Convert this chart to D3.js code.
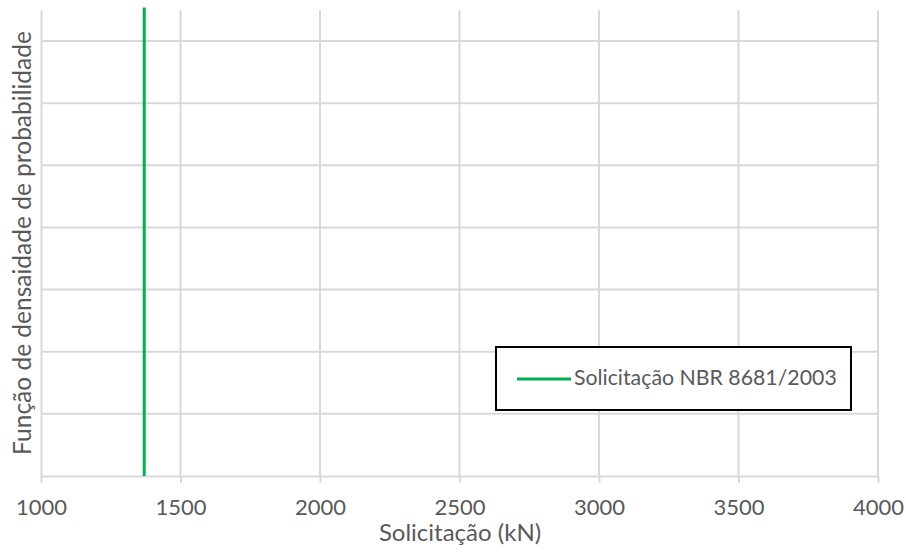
<!DOCTYPE html>
<html>
<head>
<meta charset="utf-8">
<script src="https://cdn.jsdelivr.net/npm/d3@7"></script>
<style>
  body { margin: 0; background: #fff; }
  text { font-family: Lato, "Open Sans", sans-serif; fill: #595959; }
</style>
</head>
<body>
<svg></svg>
<script>
let xTicks = [1000, 1500, 2000, 2500, 3000, 3500, 4000];
let yTicks = [0, 0.0005, 0.001, 0.0015, 0.002, 0.0025, 0.003, 0.0035];
let yMax = 0.00375;

// vertical line for the NBR 8681/2003 load
let nbrX = [1370, 1370];
let nbrY = [0, 0.00377];
let seriesName = 'Solicitação NBR 8681/2003';

let width = 906;
let height = 554;
let plotLeft = 41;
let plotRight = 878;
let plotTop = 10;
let plotBottom = 476;

let svg = d3.select('svg')
  .attr('width', width)
  .attr('height', height)

let xScale = d3.scaleLinear()
  .domain([1000, 4000])
  .range([plotLeft, plotRight])

let yScale = d3.scaleLinear()
  .domain([0, yMax])
  .range([plotBottom, plotTop])

// gridlines
svg.append('g')
  .selectAll('line')
  .data(xTicks.slice(1))
  .enter()
  .append('line')
  .attr('x1', d => xScale(d))
  .attr('x2', d => xScale(d))
  .attr('y1', plotTop)
  .attr('y2', plotBottom)
  .attr('stroke', '#d9d9d9')
  .attr('stroke-width', 2)

svg.append('g')
  .selectAll('line')
  .data(yTicks.slice(1))
  .enter()
  .append('line')
  .attr('x1', plotLeft)
  .attr('x2', plotRight)
  .attr('y1', d => yScale(d))
  .attr('y2', d => yScale(d))
  .attr('stroke', '#d9d9d9')
  .attr('stroke-width', 2)

// x axis
let xAxis = d3.axisBottom(xScale)
  .tickValues(xTicks)
  .tickFormat(d3.format('d'))
  .tickSizeInner(7)
  .tickSizeOuter(0)
  .tickPadding(16)

let gx = svg.append('g')
  .attr('transform', `translate(0, ${plotBottom})`)
  .call(xAxis)
gx.select('.domain').attr('stroke', '#d9d9d9').attr('stroke-width', 2)
gx.selectAll('.tick line').attr('stroke', '#d9d9d9').attr('stroke-width', 2)
gx.selectAll('.tick text')
  .attr('font-family', 'Lato, sans-serif')
  .attr('font-size', 22)
  .attr('fill', '#595959')

// y axis, no labels
let yAxis = d3.axisLeft(yScale)
  .tickValues(yTicks)
  .tickFormat('')
  .tickSize(0)

let gy = svg.append('g')
  .attr('transform', `translate(${plotLeft}, 0)`)
  .call(yAxis)
gy.select('.domain').attr('stroke', '#d9d9d9').attr('stroke-width', 2)

// series
let line = d3.line()
  .x(d => xScale(d[0]))
  .y(d => yScale(d[1]))

svg.append('path')
  .datum(nbrX.map((x, i) => [x, nbrY[i]]))
  .attr('d', line)
  .attr('fill', 'none')
  .attr('stroke', '#00b050')
  .attr('stroke-width', 3)

// titles
svg.append('text')
  .attr('x', 460)
  .attr('y', 541)
  .attr('text-anchor', 'middle')
  .attr('font-size', 24)
  .text('Solicitação (kN)')

svg.append('text')
  .attr('transform', 'translate(31, 243) rotate(-90)')
  .attr('text-anchor', 'middle')
  .attr('font-size', 24.5)
  .text('Função de densaidade de probabilidade')

// legend
let legend = svg.append('g')
legend.append('rect')
  .attr('x', 496)
  .attr('y', 347)
  .attr('width', 355)
  .attr('height', 63)
  .attr('fill', '#fff')
  .attr('stroke', '#000')
  .attr('stroke-width', 2)
legend.append('line')
  .attr('x1', 517)
  .attr('x2', 571)
  .attr('y1', 379)
  .attr('y2', 379)
  .attr('stroke', '#00b050')
  .attr('stroke-width', 3)
legend.append('text')
  .attr('x', 574)
  .attr('y', 385)
  .attr('font-size', 21.3)
  .text(seriesName)
</script>
</body>
</html>
